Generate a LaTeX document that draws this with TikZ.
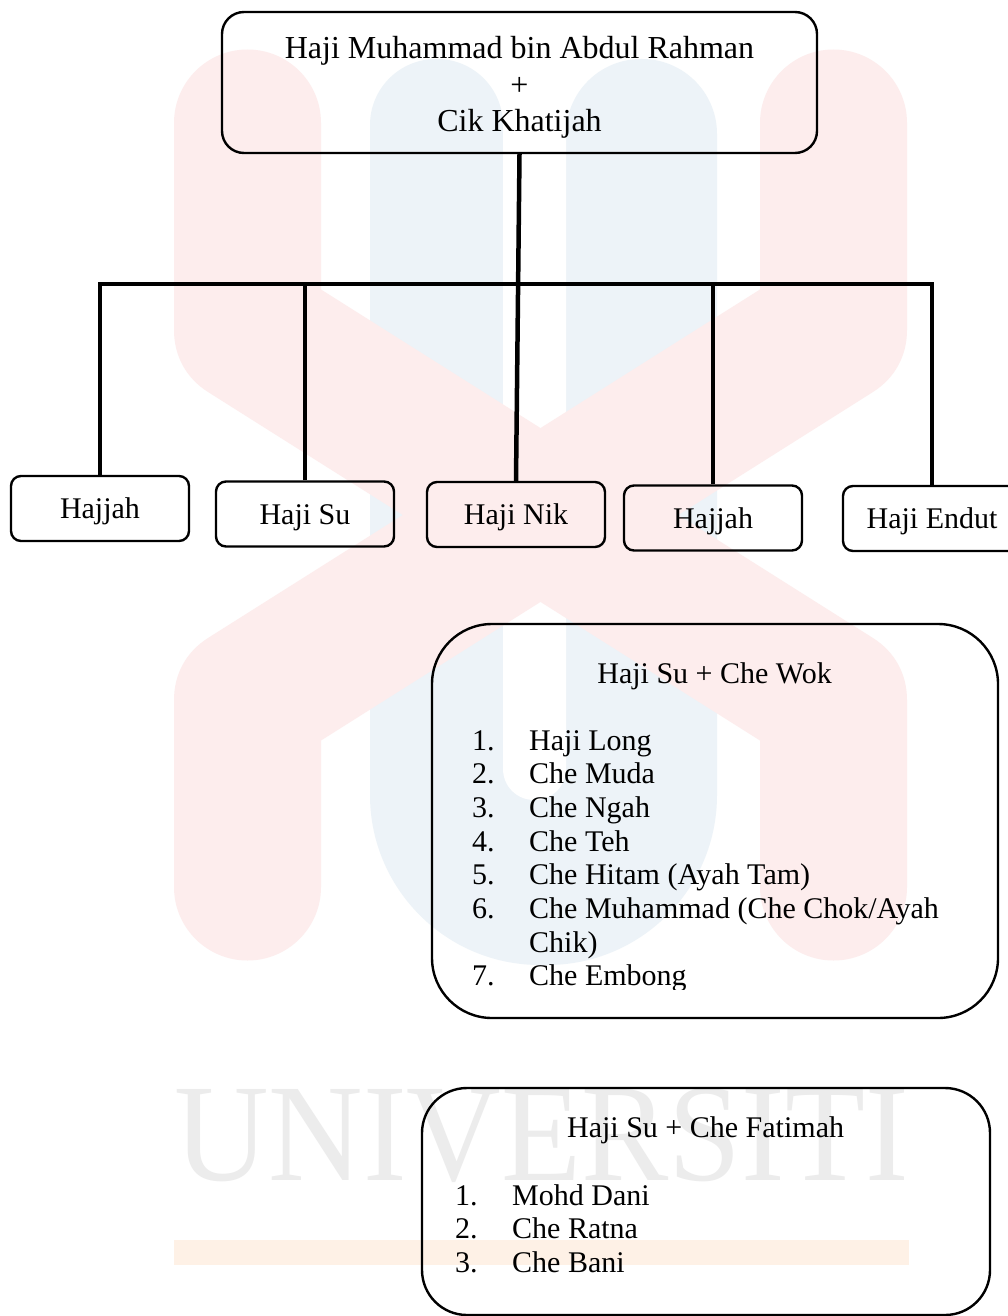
\documentclass[tikz,border=0pt]{standalone}
\usepackage{fontspec}
\setmainfont{Liberation Serif}
\definecolor{wmred}{RGB}{253,237,237}
\definecolor{wmblue}{RGB}{237,243,248}
\definecolor{wmgrey}{RGB}{236,236,236}
\definecolor{wmorange}{RGB}{254,241,230}
\tikzset{
  famtext/.style={inner sep=0pt, font=\fontsize{30}{34}\selectfont},
  toptext/.style={inner sep=0pt, font=\fontsize{32}{36}\selectfont},
  childbox/.style={draw, line width=2.4pt, rounded corners=10pt, minimum width=178pt,
    minimum height=65pt, inner sep=0pt, text height=26pt, text depth=6pt,
    font=\fontsize{30}{34}\selectfont},
  bigbox/.style={draw, line width=2.4pt, inner sep=0pt},
  conn/.style={line width=4.5pt},
}
\begin{document}
\begin{tikzpicture}[x=1pt,y=-1pt]
\useasboundingbox (0,0) rectangle (1008,1316);
\clip (0,0) rectangle (1008,1316);
\fill[white] (0,0) rectangle (1008,1316);

% ---- faint watermark ----
\fill[wmblue, rounded corners=66pt] (370,59) rectangle (503,700);
\fill[wmblue, rounded corners=75pt] (566,59) rectangle (717,700);
\fill[wmblue, rounded corners=170pt] (370,500) rectangle (717,965);
\fill[white, rounded corners=31pt] (503,40) rectangle (566,800);
\draw[wmred, line width=147pt, line cap=round, line join=round]
  (247.5,123) -- (247.5,330) -- (833.5,700) -- (833.5,887);
\draw[wmred, line width=147pt, line cap=round, line join=round]
  (833.5,123) -- (833.5,330) -- (247.5,700) -- (247.5,887);
\node[anchor=base west, inner sep=0pt, text=wmgrey, font=\fontsize{139}{139}\selectfont]
  (wmtext) at (174,1180) {\scalebox{0.942}[1]{UNIVERSITI}};
\fill[wmorange] (174,1240) rectangle (909,1265);

% ---- top couple ----
\node[bigbox, rounded corners=22pt, minimum width=595pt, minimum height=141pt] (top) at (519.5,82.5) {};
\node[toptext, anchor=base] (t1) at (519.5,59) {Haji Muhammad bin Abdul Rahman};
\node[toptext, anchor=base] (t2) at (519.5,95.5) {+};
\node[toptext, anchor=base] (t3) at (519.5,132) {Cik Khatijah};

% ---- children ----
\node[childbox] (c1) at (100,508.5) {Hajjah};
\node[childbox] (c2) at (305,514) {Haji Su};
\node[childbox] (c3) at (516,514.5) {Haji Nik};
\node[childbox] (c4) at (713,518) {Hajjah};
\node[childbox] (c5) at (932,518.5) {Haji Endut};

% ---- connectors ----
\coordinate (bar) at (519,284);
\draw[conn] (top.south) -- (c3.north);
\draw[conn] (c1.north) |- (bar) -| (c5.north);
\draw[conn] (c2.north) -- (c2.north |- bar);
\draw[conn] (c4.north) -- (c4.north |- bar);

% ---- Haji Su + Che Wok ----
\node[bigbox, rounded corners=60pt, minimum width=566pt, minimum height=394pt] (wok) at (715,821) {};
\node[famtext, anchor=base] (wokt) at (714.6,683) {Haji Su + Che Wok};
\node[famtext, anchor=base west] (wn1) at (472,750) {1.};
\node[famtext, anchor=base west] (wi1) at (529,750) {Haji Long};
\node[famtext, anchor=base west] (wn2) at (472,783.7) {2.};
\node[famtext, anchor=base west] (wi2) at (529,783.7) {Che Muda};
\node[famtext, anchor=base west] (wn3) at (472,817.4) {3.};
\node[famtext, anchor=base west] (wi3) at (529,817.4) {Che Ngah};
\node[famtext, anchor=base west] (wn4) at (472,851.1) {4.};
\node[famtext, anchor=base west] (wi4) at (529,851.1) {Che Teh};
\node[famtext, anchor=base west] (wn5) at (472,884.8) {5.};
\node[famtext, anchor=base west] (wi5) at (529,884.8) {Che Hitam (Ayah Tam)};
\node[famtext, anchor=base west] (wn6) at (472,918.5) {6.};
\node[famtext, anchor=base west] (wi6) at (529,918.5) {Che Muhammad (Che Chok/Ayah};
\node[famtext, anchor=base west] (wi6b) at (529,952.2) {Chik)};
\begin{scope}
\clip (0,0) rectangle (1008,989);
\node[famtext, anchor=base west] (wn7) at (472,985.9) {7.};
\node[famtext, anchor=base west] (wi7) at (529,985.9) {Che Embong};
\end{scope}

% ---- Haji Su + Che Fatimah ----
\node[bigbox, rounded corners=45pt, minimum width=568pt, minimum height=227pt] (fat) at (706,1201.5) {};
\node[famtext, anchor=base] (fatt) at (705.6,1137) {Haji Su + Che Fatimah};
\node[famtext, anchor=base west] (fn1) at (455,1205) {1.};
\node[famtext, anchor=base west] (fi1) at (512,1205) {Mohd Dani};
\node[famtext, anchor=base west] (fn2) at (455,1238.5) {2.};
\node[famtext, anchor=base west] (fi2) at (512,1238.5) {Che Ratna};
\node[famtext, anchor=base west] (fn3) at (455,1272) {3.};
\node[famtext, anchor=base west] (fi3) at (512,1272) {Che Bani};
\end{tikzpicture}
\end{document}
